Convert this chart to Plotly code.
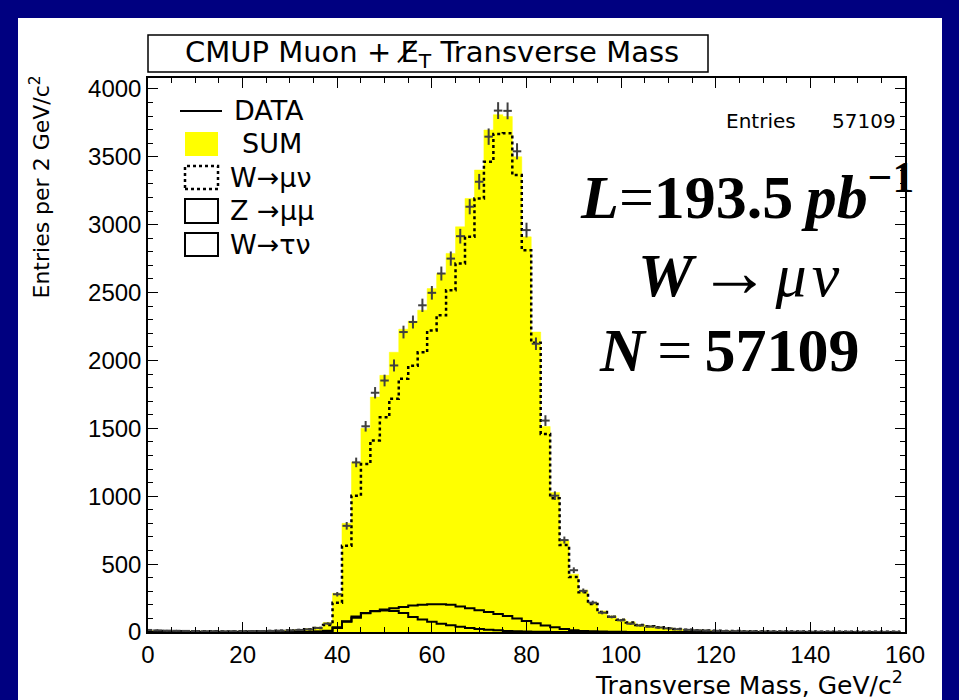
import numpy as np
import plotly.graph_objects as go

# ---- histogram contents: 2 GeV/c^2 bins, bin centres 0..158 ----
bin_width = 2.0
bin_centers = list(range(0, 160, 2))

data_counts = [
    15, 12, 10, 9, 8, 7, 6, 6, 5, 6,
    6, 7, 7, 8, 10, 12, 15, 20, 30, 62,
    278, 782, 1249, 1515, 1762, 1852, 1963, 2209, 2283, 2406,
    2498, 2640, 2750, 2915, 3132, 3316, 3648, 3840, 3838, 3540,
    2960, 2123, 1557, 1004, 677, 455, 303, 216, 142, 111,
    86, 61, 48, 40, 33, 27, 20, 16, 13, 11,
    9, 7, 6, 5, 5, 4, 4, 3, 3, 3,
    2, 2, 2, 2, 2, 1, 1, 1, 1, 1,
]

sum_mc = [
    10, 9, 8, 8, 7, 6, 6, 6, 5, 5,
    6, 6, 7, 8, 10, 13, 17, 24, 35, 70,
    285, 800, 1250, 1500, 1730, 1890, 2060, 2230, 2290, 2370,
    2529, 2640, 2788, 2984, 3193, 3402, 3697, 3810, 3796, 3500,
    2910, 2209, 1513, 1028, 672, 426, 308, 216, 155, 118,
    94, 74, 55, 45, 37, 30, 23, 18, 14, 12,
    10, 8, 7, 6, 5, 5, 4, 4, 3, 3,
    3, 2, 2, 2, 2, 2, 1, 1, 1, 1,
]

w_munu = [
    8, 7, 6, 6, 5, 5, 5, 5, 4, 4,
    5, 5, 6, 7, 9, 11, 15, 21, 30, 52,
    216, 635, 1004, 1237, 1410, 1581, 1717, 1865, 1960, 2060,
    2221, 2332, 2517, 2714, 2910, 3193, 3463, 3668, 3673, 3365,
    2811, 2130, 1459, 985, 640, 405, 292, 206, 148, 112,
    90, 70, 52, 43, 35, 28, 22, 17, 13, 11,
    9, 8, 7, 6, 5, 5, 4, 4, 3, 3,
    3, 2, 2, 2, 2, 2, 1, 1, 1, 1,
]

z_mumu = [
    0, 0, 0, 0, 0, 0, 0, 0, 0, 0,
    0, 0, 0, 0, 0, 0, 0, 1, 3, 10,
    35, 75, 105, 140, 155, 165, 175, 185, 195, 200,
    204, 205, 200, 188, 175, 160, 148, 132, 118, 100,
    81, 65, 48, 35, 22, 13, 8, 5, 3, 2,
    1, 0, 0, 0, 0, 0, 0, 0, 0, 0,
    0, 0, 0, 0, 0, 0, 0, 0, 0, 0,
    0, 0, 0, 0, 0, 0, 0, 0, 0, 0,
]

w_taunu = [
    0, 0, 0, 0, 0, 0, 0, 0, 0, 0,
    0, 0, 0, 0, 0, 0, 0, 0, 2, 8,
    30, 80, 115, 138, 152, 158, 155, 140, 110, 92,
    75, 61, 50, 38, 30, 22, 17, 12, 8, 5,
    3, 2, 1, 0, 0, 0, 0, 0, 0, 0,
    0, 0, 0, 0, 0, 0, 0, 0, 0, 0,
    0, 0, 0, 0, 0, 0, 0, 0, 0, 0,
    0, 0, 0, 0, 0, 0, 0, 0, 0, 0,
]

x_ticks = [0, 20, 40, 60, 80, 100, 120, 140, 160]
y_ticks = [0, 500, 1000, 1500, 2000, 2500, 3000, 3500, 4000]

# ---- page geometry (pixels) ----
W, H = 959, 700
PLOT_L, PLOT_R, PLOT_T, PLOT_B = 148, 905, 78, 632


def px(x):
    return (x - PLOT_L) / (PLOT_R - PLOT_L)


def py(y):
    return (PLOT_B - y) / (PLOT_B - PLOT_T)


edges = np.array(bin_centers, dtype=float) - bin_width / 2
x_step = np.append(edges, edges[-1] + bin_width)


def step(vals):
    v = np.asarray(vals, dtype=float)
    return np.append(v, v[-1])


TICK_FONT = "Liberation Sans, Arial, DejaVu Sans"
SANS = "DejaVu Sans, Liberation Sans, Arial"
SERIF = "Liberation Serif, Times New Roman, serif"
ERR_COLOR = "#404040"

fig = go.Figure()

# stacked MC sum, yellow fill
fig.add_trace(go.Scatter(
    x=x_step, y=step(sum_mc), mode="lines",
    line=dict(shape="hv", width=0.5, color="#ffff00"),
    fill="tozeroy", fillcolor="#ffff00", hoverinfo="skip",
))
# W -> mu nu, dotted
fig.add_trace(go.Scatter(
    x=x_step, y=step(w_munu), mode="lines",
    line=dict(shape="hv", width=2.5, color="black", dash="dot"),
))
# Z -> mu mu and W -> tau nu, solid
for vals in (z_mumu, w_taunu):
    fig.add_trace(go.Scatter(
        x=x_step, y=step(vals), mode="lines",
        line=dict(shape="hv", width=2, color="black"),
    ))
# data with sqrt(N) errors
fig.add_trace(go.Scatter(
    x=bin_centers, y=data_counts, mode="markers",
    marker=dict(size=2, color=ERR_COLOR),
    error_y=dict(type="data", array=np.sqrt(np.array(data_counts, dtype=float)),
                 width=0, thickness=2, color=ERR_COLOR),
    error_x=dict(type="constant", value=0.9, width=0, thickness=2, color=ERR_COLOR),
))

shapes = []
# white slide panel
shapes.append(dict(type="rect", xref="paper", yref="paper", layer="below",
                   x0=px(18), x1=px(942), y0=py(H + 5), y1=py(18),
                   fillcolor="white", line=dict(width=0)))
# title box
shapes.append(dict(type="rect", xref="paper", yref="paper",
                   x0=px(148), x1=px(708), y0=py(72), y1=py(35),
                   fillcolor="white", line=dict(color="black", width=1.5)))
# legend symbols
shapes.append(dict(type="line", xref="paper", yref="paper",
                   x0=px(180), x1=px(222), y0=py(111), y1=py(111),
                   line=dict(color="black", width=2)))
shapes.append(dict(type="rect", xref="paper", yref="paper",
                   x0=px(185), x1=px(218), y0=py(156), y1=py(132),
                   fillcolor="#ffff00", line=dict(width=0)))
shapes.append(dict(type="rect", xref="paper", yref="paper",
                   x0=px(185), x1=px(218), y0=py(189), y1=py(166),
                   line=dict(color="black", width=2.5, dash="dot")))
for y0, y1 in ((223, 199), (256, 233)):
    shapes.append(dict(type="rect", xref="paper", yref="paper",
                       x0=px(185), x1=px(218), y0=py(y0), y1=py(y1),
                       line=dict(color="black", width=2)))

annotations = []


def label(text, x, y, size, family=SANS, xanchor="left", yanchor="middle", angle=0):
    annotations.append(dict(text=text, xref="paper", yref="paper",
                            x=px(x), y=py(y), xanchor=xanchor, yanchor=yanchor,
                            showarrow=False, textangle=angle,
                            font=dict(family=family, size=size, color="black")))


THIN = "\u2009"
HAIR = "\u200a"
label("CMUP Muon + E\u0338<sub>T</sub> Transverse Mass", 432, 54, 29, xanchor="center")
label("DATA", 232, 110, 27)
label("SUM", 240, 143, 27)
label("W\u2192\u03bc\u03bd", 228, 177, 27)
label("Z \u2192\u03bc\u03bc", 228, 211, 27)
label("W\u2192\u03c4\u03bd", 228, 244, 27)
label("Entries", 724, 121, 20)
label("57109", 898, 121, 20, xanchor="right")
label("<b><i>L</i></b>=<b>193.5</b>" + THIN
      + "<b><i>pb</i></b><sup><b>\u22121</b></sup>",
      578, 192, 62, family=SERIF)
label("<b><i>W</i></b>" + HAIR + "<span style='font-size:72px'>\u2192</span>" + HAIR
      + "<i>\u03bc" + HAIR + "\u03bd</i>",
      739, 272, 62, family=SERIF, xanchor="center")
label("<b><i>N</i></b>" + THIN + "=" + THIN + "<b>57109</b>", 597, 350, 62, family=SERIF)
label("Transverse Mass, GeV/c<sup>2</sup>", 905, 683, 25, xanchor="right")
label("Entries per 2 GeV/c<sup>2</sup>", 40, 74, 22, xanchor="center", yanchor="top", angle=-90)

axis_font = dict(family=TICK_FONT, size=24, color="black")
fig.update_layout(
    width=W, height=H,
    margin=dict(l=PLOT_L, r=W - PLOT_R, t=PLOT_T, b=H - PLOT_B),
    paper_bgcolor="#000080", plot_bgcolor="white",
    showlegend=False,
    shapes=shapes, annotations=annotations,
    xaxis=dict(range=[0, 160], tickvals=x_ticks, ticks="inside", ticklen=10,
               tickwidth=1, tickcolor="black", showline=True, linecolor="black",
               linewidth=1.5, mirror="allticks", showgrid=False, zeroline=False,
               tickfont=axis_font,
               minor=dict(dtick=5, ticks="inside", ticklen=5, tickcolor="black",
                          showgrid=False)),
    yaxis=dict(range=[0, 4080], tickvals=y_ticks, tickformat="d", ticks="inside",
               ticklen=10, tickwidth=1, tickcolor="black", showline=True,
               linecolor="black", linewidth=1.5, mirror="allticks", showgrid=False,
               zeroline=False, tickfont=axis_font,
               minor=dict(dtick=100, ticks="inside", ticklen=5, tickcolor="black",
                          showgrid=False)),
)

fig.write_html("out.html")
